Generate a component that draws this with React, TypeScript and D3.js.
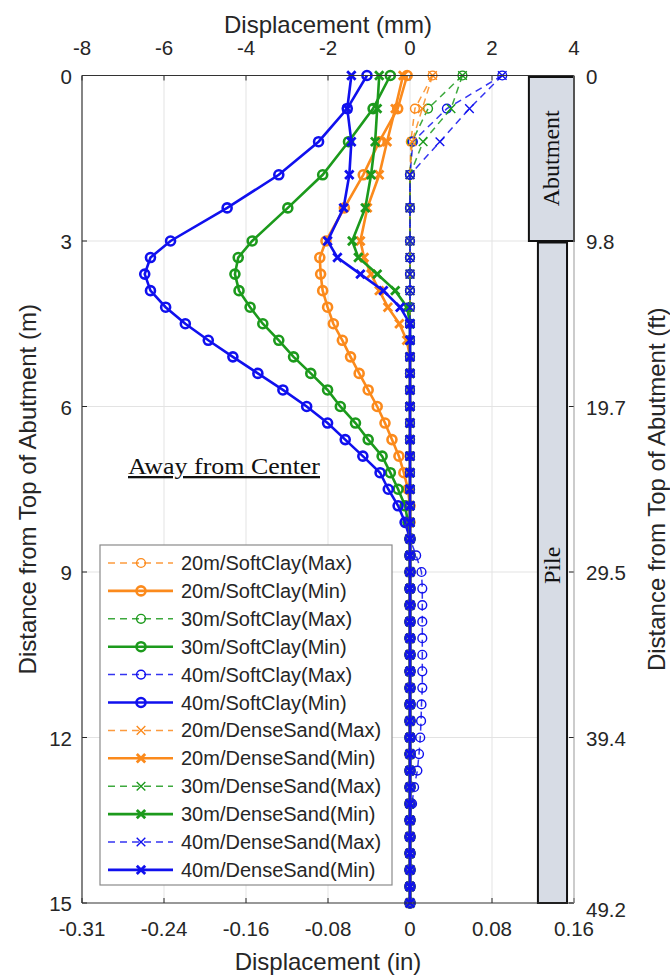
import React from "react";
import * as d3 from "d3";

// depth below top of abutment (m)
const depths = [0, 0.6, 1.2, 1.8, 2.4, 3.0, 3.3, 3.6, 3.9, 4.2, 4.5, 4.8, 5.1, 5.4, 5.7, 6.0, 6.3, 6.6, 6.9, 7.2, 7.5, 7.8, 8.1, 8.4, 8.7, 9.0, 9.3, 9.6, 9.9, 10.2, 10.5, 10.8, 11.1, 11.4, 11.7, 12.0, 12.3, 12.6, 12.9, 13.2, 13.5, 13.8, 14.1, 14.4, 14.7, 15.0];

// displacement (mm)
const sc20Max = [0.55, 0.12, 0.02, 0, 0, 0, 0, 0, 0, 0, 0, 0, 0, 0, 0, 0, 0, 0, 0, 0, 0, 0, 0, 0, 0, 0, 0, 0, 0, 0, 0, 0, 0, 0, 0, 0, 0, 0, 0, 0, 0, 0, 0, 0, 0, 0];
const sc20Min = [-0.07, -0.3, -0.75, -1.14, -1.6, -2.05, -2.2, -2.18, -2.13, -2.01, -1.87, -1.65, -1.45, -1.24, -1.02, -0.8, -0.61, -0.44, -0.27, -0.15, -0.05, 0, 0, 0, 0, 0, 0, 0, 0, 0, 0, 0, 0, 0, 0, 0, 0, 0, 0, 0, 0, 0, 0, 0, 0, 0];
const sc30Max = [1.28, 0.44, 0.05, 0, 0, 0, 0, 0, 0, 0, 0, 0, 0, 0, 0, 0, 0, 0, 0, 0, 0, 0, 0, 0, 0, 0, 0, 0, 0, 0, 0, 0, 0, 0, 0, 0, 0, 0, 0, 0, 0, 0, 0, 0, 0, 0];
const sc30Min = [-0.48, -0.9, -1.5, -2.13, -2.98, -3.85, -4.19, -4.27, -4.17, -3.9, -3.59, -3.2, -2.84, -2.42, -2.01, -1.7, -1.33, -1.02, -0.68, -0.48, -0.29, -0.12, -0.05, 0, 0, 0, 0, 0, 0, 0, 0, 0, 0, 0, 0, 0, 0, 0, 0, 0, 0, 0, 0, 0, 0, 0];
const sc40Max = [2.25, 0.9, 0.07, 0, 0, 0, 0, 0, 0, 0, 0, 0, 0, 0, 0, 0, 0, 0, 0, 0, 0, 0, 0, 0, 0.15, 0.28, 0.3, 0.3, 0.3, 0.3, 0.3, 0.3, 0.3, 0.28, 0.27, 0.25, 0.22, 0.18, 0.1, 0.05, 0, 0, 0, 0, 0, 0];
const sc40Min = [-1.05, -1.53, -2.23, -3.2, -4.46, -5.84, -6.33, -6.47, -6.33, -5.96, -5.48, -4.92, -4.32, -3.71, -3.1, -2.52, -2.01, -1.58, -1.15, -0.73, -0.53, -0.29, -0.12, 0, 0, 0, 0, 0, 0, 0, 0, 0, 0, 0, 0, 0, 0, 0, 0, 0, 0, 0, 0, 0, 0, 0];
const ds20Max = [0.55, 0.3, 0.05, 0, 0, 0, 0, 0, 0, 0, 0, 0, 0, 0, 0, 0, 0, 0, 0, 0, 0, 0, 0, 0, 0, 0, 0, 0, 0, 0, 0, 0, 0, 0, 0, 0, 0, 0, 0, 0, 0, 0, 0, 0, 0, 0];
const ds20Min = [-0.17, -0.36, -0.56, -0.75, -1.04, -1.21, -1.12, -0.95, -0.75, -0.54, -0.26, -0.08, 0, 0, 0, 0, 0, 0, 0, 0, 0, 0, 0, 0, 0, 0, 0, 0, 0, 0, 0, 0, 0, 0, 0, 0, 0, 0, 0, 0, 0, 0, 0, 0, 0, 0];
const ds30Max = [1.28, 1.0, 0.32, 0, 0, 0, 0, 0, 0, 0, 0, 0, 0, 0, 0, 0, 0, 0, 0, 0, 0, 0, 0, 0, 0, 0, 0, 0, 0, 0, 0, 0, 0, 0, 0, 0, 0, 0, 0, 0, 0, 0, 0, 0, 0, 0];
const ds30Min = [-0.75, -0.8, -0.85, -0.95, -1.09, -1.41, -1.26, -0.8, -0.36, -0.07, 0, 0, 0, 0, 0, 0, 0, 0, 0, 0, 0, 0, 0, 0, 0, 0, 0, 0, 0, 0, 0, 0, 0, 0, 0, 0, 0, 0, 0, 0, 0, 0, 0, 0, 0, 0];
const ds40Max = [2.25, 1.45, 0.73, 0, 0, 0, 0, 0, 0, 0, 0, 0, 0, 0, 0, 0, 0, 0, 0, 0, 0, 0, 0, 0, 0, 0, 0, 0, 0, 0, 0, 0, 0, 0, 0, 0, 0, 0, 0, 0, 0, 0, 0, 0, 0, 0];
const ds40Min = [-1.43, -1.53, -1.43, -1.48, -1.62, -2.01, -1.77, -1.21, -0.65, -0.24, 0, 0, 0, 0, 0, 0, 0, 0, 0, 0, 0, 0, 0, 0, 0, 0, 0, 0, 0, 0, 0, 0, 0, 0, 0, 0, 0, 0, 0, 0, 0, 0, 0, 0, 0, 0];

const seriesNames = [
  "20m/SoftClay(Max)", "20m/SoftClay(Min)", "30m/SoftClay(Max)", "30m/SoftClay(Min)",
  "40m/SoftClay(Max)", "40m/SoftClay(Min)", "20m/DenseSand(Max)", "20m/DenseSand(Min)",
  "30m/DenseSand(Max)", "30m/DenseSand(Min)", "40m/DenseSand(Max)", "40m/DenseSand(Min)",
];
const seriesValues = [sc20Max, sc20Min, sc30Max, sc30Min, sc40Max, sc40Min, ds20Max, ds20Min, ds30Max, ds30Min, ds40Max, ds40Min];

// axis ticks
const mmTicks = [-8, -6, -4, -2, 0, 2, 4];
const inLabels = ["-0.31", "-0.24", "-0.16", "-0.08", "0", "0.08", "0.16"];
const mTicks = [0, 3, 6, 9, 12, 15];
const ftLabels = ["0", "9.8", "19.7", "29.5", "39.4", "49.2"];

// structure sketch (mm / m)
const structNames = ["Abutment", "Pile"];
const structX0 = [2.9, 3.12];
const structX1 = [4.0, 3.83];
const structY0 = [0, 3];
const structY1 = [3, 15];

const ORANGE = "#fb8a1c";
const GREEN = "#1c9a1c";
const BLUE = "#1010ee";
const colorFor = (i: number) => [ORANGE, GREEN, BLUE][Math.floor((i % 6) / 2)];
const isMax = (i: number) => i % 2 === 0;
const isCross = (i: number) => i >= 6;

const FONT = "'Liberation Sans', Arial, sans-serif";
const SERIF = "'Liberation Serif', 'Times New Roman', serif";
const TXT = "#262626";

function Marker({ cx, cy, cross, color, max }: { cx: number; cy: number; cross: boolean; color: string; max: boolean }) {
  if (cross) {
    const s = max ? 4.3 : 4.2;
    return (
      <path d={`M${cx - s},${cy - s}L${cx + s},${cy + s}M${cx - s},${cy + s}L${cx + s},${cy - s}`} stroke={color} strokeWidth={max ? 1.4 : 2.8} fill="none" />
    );
  }
  return <circle cx={cx} cy={cy} r={max ? 4.4 : 4.5} stroke={color} strokeWidth={max ? 1.4 : 2.6} fill="none" />;
}

export default function App() {
  const x = d3.scaleLinear().domain([-8, 4]).range([82, 574]);
  const y = d3.scaleLinear().domain([0, 15]).range([75.5, 903]);
  const [x0, x1] = x.range();
  const [y0, y1] = y.range();

  const line = d3
    .line<number>()
    .x((d) => x(d))
    .y((_, i) => y(depths[i]));

  const legX = 100, legY = 545, legW = 292, legH = 340, rowH = 27.9;

  return (
    <svg width={670} height={977} style={{ position: "absolute", left: 0, top: 0, background: "#fff" }}>
      <rect x={0} y={0} width={670} height={977} fill="#fff" />
      {/* grid */}
      {mmTicks.slice(1, -1).map((t) => (
        <line key={"gx" + t} x1={x(t)} x2={x(t)} y1={y0} y2={y1} stroke="#e3e3e3" strokeWidth={1} />
      ))}
      {mTicks.slice(1, -1).map((t) => (
        <line key={"gy" + t} x1={x0} x2={x1} y1={y(t)} y2={y(t)} stroke="#e3e3e3" strokeWidth={1} />
      ))}
      {/* ticks */}
      {mmTicks.map((t) => (
        <g key={"tx" + t}>
          <line x1={x(t)} x2={x(t)} y1={y0} y2={y0 + 5} stroke={TXT} strokeWidth={1} />
          <line x1={x(t)} x2={x(t)} y1={y1} y2={y1 - 5} stroke={TXT} strokeWidth={1} />
        </g>
      ))}
      {mTicks.map((t) => (
        <g key={"ty" + t}>
          <line x1={x0} x2={x0 + 5} y1={y(t)} y2={y(t)} stroke={TXT} strokeWidth={1} />
          <line x1={x1} x2={x1 - 5} y1={y(t)} y2={y(t)} stroke={TXT} strokeWidth={1} />
        </g>
      ))}
      {/* structure */}
      {structNames.map((n, i) => (
        <rect key={"st" + n} x={x(structX0[i])} y={y(structY0[i]) + 1.5} width={x(structX1[i]) - x(structX0[i])} height={y(structY1[i]) - y(structY0[i]) - 1.5} fill="#d7dce5" stroke="#111" strokeWidth={2} />
      ))}
      {structNames.map((n, i) => {
        const cx = (x(structX0[i]) + x(structX1[i])) / 2;
        const cy = i === 0 ? (y(structY0[i]) + y(structY1[i])) / 2 : y(structY0[i]) + (y(structY1[i]) - y(structY0[i])) * 0.49;
        return (
          <text key={"stt" + n} x={cx} y={cy} transform={`rotate(-90 ${cx} ${cy})`} textAnchor="middle" dominantBaseline="central" fontFamily={SERIF} fontSize={24} fill="#111">
            {n}
          </text>
        );
      })}
      {/* series */}
      {seriesValues.map((vals, i) => (
        <g key={"s" + i}>
          <path d={line(vals) || ""} fill="none" stroke={colorFor(i)} strokeWidth={isMax(i) ? 1.5 : 2.6} strokeDasharray={isMax(i) ? "7,5" : undefined} strokeOpacity={isMax(i) ? 0.85 : 1} />
          {vals.map((v, j) => (
            <Marker key={j} cx={x(v)} cy={y(depths[j])} cross={isCross(i)} color={colorFor(i)} max={isMax(i)} />
          ))}
        </g>
      ))}
      {/* axes box */}
      <line x1={x0} x2={x1} y1={y0} y2={y0} stroke="#333" strokeWidth={1.2} />
      <line x1={x0} x2={x1} y1={y1} y2={y1} stroke="#333" strokeWidth={1.2} />
      <line x1={x0} x2={x0} y1={y0} y2={y1} stroke="#333" strokeWidth={1.2} />
      <line x1={x1} x2={x1} y1={y0} y2={y1} stroke="#999" strokeWidth={1} />
      {/* tick labels */}
      {mmTicks.map((t) => (
        <text key={"lt" + t} x={x(t)} y={55} textAnchor="middle" fontFamily={FONT} fontSize={20.5} fill={TXT}>
          {String(t)}
        </text>
      ))}
      {mmTicks.map((t, i) => (
        <text key={"lb" + t} x={x(t)} y={936} textAnchor="middle" fontFamily={FONT} fontSize={20.5} fill={TXT}>
          {inLabels[i]}
        </text>
      ))}
      {mTicks.map((t) => (
        <text key={"ll" + t} x={72} y={y(t) + 8} textAnchor="end" fontFamily={FONT} fontSize={20.5} fill={TXT}>
          {String(t)}
        </text>
      ))}
      {mTicks.map((t, i) => (
        <text key={"lr" + t} x={586} y={y(t) + (i === mTicks.length - 1 ? 14 : 8)} textAnchor="start" fontFamily={FONT} fontSize={20.5} fill={TXT}>
          {ftLabels[i]}
        </text>
      ))}
      {/* titles */}
      <text x={(x0 + x1) / 2} y={33} textAnchor="middle" fontFamily={FONT} fontSize={24} fill={TXT}>
        Displacement (mm)
      </text>
      <text x={(x0 + x1) / 2} y={970} textAnchor="middle" fontFamily={FONT} fontSize={24} fill={TXT}>
        Displacement (in)
      </text>
      <text x={36} y={(y0 + y1) / 2} transform={`rotate(-90 36 ${(y0 + y1) / 2})`} textAnchor="middle" fontFamily={FONT} fontSize={24} fill={TXT}>
        Distance from Top of Abutment (m)
      </text>
      <text x={665} y={(y0 + y1) / 2} transform={`rotate(-90 665 ${(y0 + y1) / 2})`} textAnchor="middle" fontFamily={FONT} fontSize={24} fill={TXT}>
        Distance from Top of Abutment (ft)
      </text>
      {/* annotation */}
      <text x={128} y={474} fontFamily={SERIF} fontSize={23} fill="#111" textDecoration="underline" textLength={192} lengthAdjust="spacingAndGlyphs">
        Away from Center
      </text>
      {/* legend */}
      <rect x={legX} y={legY} width={legW} height={legH} fill="#fff" stroke="#8a8a8a" strokeWidth={1.2} />
      {seriesNames.map((n, i) => {
        const ry = legY + 18 + i * rowH;
        return (
          <g key={"lg" + i}>
            <line x1={legX + 8} x2={legX + 73} y1={ry} y2={ry} stroke={colorFor(i)} strokeWidth={isMax(i) ? 1.5 : 2.6} strokeDasharray={isMax(i) ? "7,5" : undefined} strokeOpacity={isMax(i) ? 0.85 : 1} />
            <Marker cx={legX + 41} cy={ry} cross={isCross(i)} color={colorFor(i)} max={isMax(i)} />
            <text x={legX + 81} y={ry + 7} fontFamily={FONT} fontSize={20} fill={TXT}>
              {n}
            </text>
          </g>
        );
      })}
    </svg>
  );
}
